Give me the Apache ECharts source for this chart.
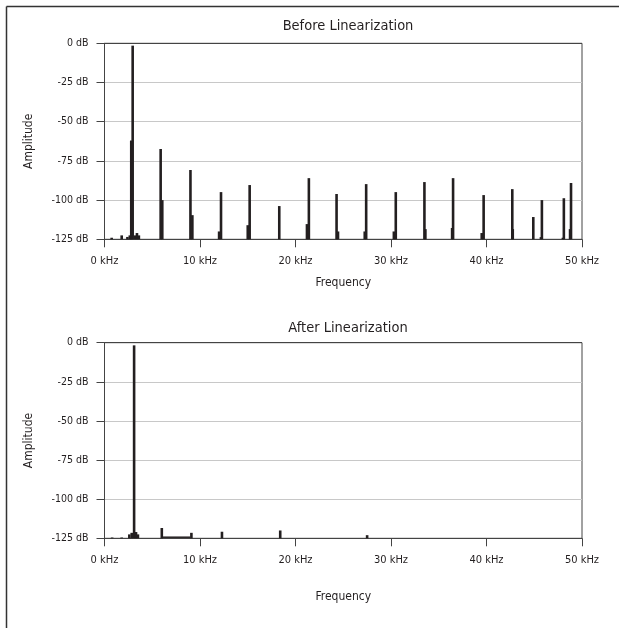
<!DOCTYPE html>
<html>
<head>
<meta charset="utf-8">
<script src="https://cdn.jsdelivr.net/npm/echarts@6/dist/echarts.min.js"></script>
<style>
	html, body { margin: 0; padding: 0; background: #fff; }
	#spectrum { width: 619px; height: 628px; }
</style>
</head>
<body>
<div id="spectrum"></div>
<script>
// before linearization: spike frequency (kHz) and amplitude (dB)
const beforeFreq = [0.75, 1.8, 2.4, 2.65, 2.8, 2.95, 3.2, 3.4, 3.6,
	5.88, 6.05, 9.0, 9.2, 12.0, 12.2, 15.0, 15.2, 18.3, 21.2, 21.4,
	24.3, 24.45, 27.25, 27.4, 30.3, 30.5, 33.5, 33.6, 36.4, 36.5,
	39.5, 39.7, 42.7, 42.75, 44.9, 45.7, 45.8, 48.0, 48.1, 48.75, 48.85];
const beforeAmp = [-124, -122.5, -123.5, -122.5, -62, -1.5, -122.5, -121, -122.5,
	-67.4, -100, -80.8, -109.6, -120, -94.9, -116, -90.4, -103.8, -115.3, -86,
	-96.1, -120, -120, -89.8, -120, -94.9, -88.5, -118.5, -117.8, -86,
	-121, -96.8, -93, -118.5, -110.8, -123.6, -100, -124, -98.8, -118.5, -89.1];

// after linearization
const afterFreq = [0.8, 1.8, 2.6, 2.85, 3.1, 3.3, 3.5, 6.0, 9.1, 12.3, 18.4, 27.5];
const afterAmp = [-124.5, -124.5, -122.5, -121.5, -1.7, -121, -122.5, -118.4, -121.5, -120.8, -120, -123];
// low floor between 6 and 9 kHz
const floorFreq = [6.1, 9.0];
const floorAmp = [-124.3, -124.3];

const yTicks = [0, -25, -50, -75, -100, -125];
const xTicks = [0, 10, 20, 30, 40, 50];

const font = "'Liberation Sans Narrow', 'DejaVu Sans Condensed', sans-serif";
const ink = '#231f20';
const axisCol = '#444';

const pairs = (xs, ys) => xs.map((x, i) => [x, ys[i]]);

const spike = (params, api) => {
	const top = api.coord([api.value(0), api.value(1)]);
	const base = api.coord([api.value(0), yTicks[yTicks.length - 1]]);
	return {
		type: 'rect',
		shape: {x: top[0] - 1.3, y: top[1], width: 2.6, height: base[1] - top[1]},
		style: {fill: ink}
	};
};

const xAxis = (idx, gap) => ({
	gridIndex: idx,
	type: 'value',
	min: xTicks[0], max: xTicks[xTicks.length - 1], interval: 10,
	name: 'Frequency', nameLocation: 'middle', nameGap: gap,
	nameTextStyle: {fontFamily: font, fontSize: 12, color: ink},
	axisLine: {onZero: false, lineStyle: {color: axisCol}},
	axisTick: {length: 8, lineStyle: {color: axisCol}},
	axisLabel: {formatter: '{value} kHz', margin: 16, fontFamily: font, fontSize: 11, color: ink},
	splitLine: {show: false}
});

const yAxis = (idx) => ({
	gridIndex: idx,
	type: 'value',
	min: yTicks[yTicks.length - 1], max: yTicks[0], interval: 25,
	name: 'Amplitude', nameLocation: 'middle', nameRotate: 90, nameGap: 70,
	nameTextStyle: {fontFamily: font, fontSize: 12, color: ink},
	axisLine: {show: true, onZero: false, lineStyle: {color: axisCol}},
	axisTick: {show: true, length: 8, lineStyle: {color: axisCol}},
	axisLabel: {formatter: '{value} dB', margin: 16, fontFamily: font, fontSize: 10.5, color: ink},
	// top line is the plot frame, darker than the inner grid lines
	splitLine: {lineStyle: {color: ['#c8c8c8', '#c8c8c8', '#c8c8c8', '#c8c8c8', '#c8c8c8', axisCol]}}
});

const chart = echarts.init(document.getElementById('spectrum'));
chart.setOption({
	animation: false,
	backgroundColor: '#fff',
	title: [
		{text: 'Before Linearization', left: 343, top: 14, textAlign: 'center',
			textStyle: {fontFamily: font, fontSize: 14.5, fontWeight: 'normal', color: ink}},
		{text: 'After Linearization', left: 343, top: 316, textAlign: 'center',
			textStyle: {fontFamily: font, fontSize: 14.5, fontWeight: 'normal', color: ink}}
	],
	grid: [
		{left: 104.5, right: 37, top: 43.3, height: 196, show: true, borderColor: axisCol, borderWidth: 1},
		{left: 104.5, right: 37, top: 342.7, height: 195.6, show: true, borderColor: axisCol, borderWidth: 1}
	],
	xAxis: [xAxis(0, 38), xAxis(1, 53)],
	yAxis: [yAxis(0), yAxis(1)],
	series: [
		{type: 'custom', xAxisIndex: 0, yAxisIndex: 0, renderItem: spike, data: pairs(beforeFreq, beforeAmp)},
		{type: 'custom', xAxisIndex: 1, yAxisIndex: 1, renderItem: spike, data: pairs(afterFreq, afterAmp)},
		{type: 'line', xAxisIndex: 1, yAxisIndex: 1, data: pairs(floorFreq, floorAmp),
			symbol: 'none', lineStyle: {color: ink, width: 1.5}}
	],
	graphic: [
		{type: 'line', shape: {x1: 6.5, y1: 6.5, x2: 619, y2: 6.5}, style: {stroke: '#333', lineWidth: 1.5}},
		{type: 'line', shape: {x1: 6.5, y1: 6.5, x2: 6.5, y2: 628}, style: {stroke: '#333', lineWidth: 1.5}}
	]
});
</script>
</body>
</html>
